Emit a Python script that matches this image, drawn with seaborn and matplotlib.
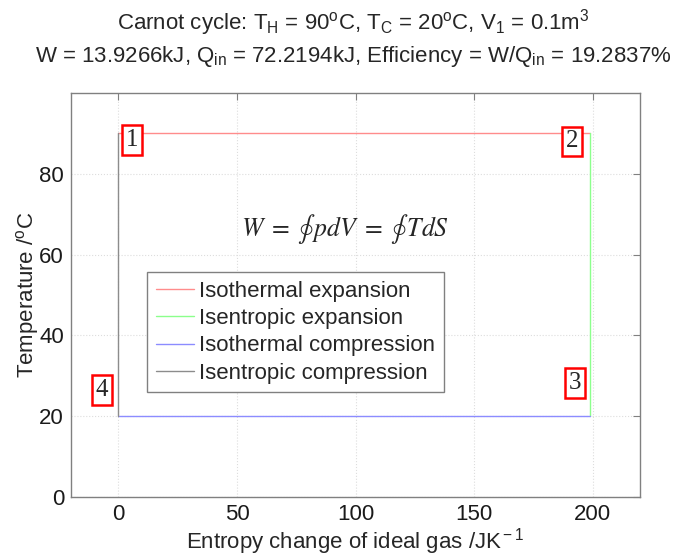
import matplotlib
matplotlib.use("Agg")
import matplotlib.pyplot as plt
import seaborn as sns
import pandas as pd

# Data
T_H = 90
T_C = 20
dS = 198.95
segments = ["Isothermal expansion", "Isentropic expansion",
            "Isothermal compression", "Isentropic compression"]
seg_S = [[0, dS], [dS, dS], [dS, 0], [0, 0]]
seg_T = [[T_H, T_H], [T_H, T_C], [T_C, T_C], [T_C, T_H]]
colors = ["#ff8c8c", "#8cff8c", "#8c8cff", "#8c8c8c"]
corner_labels = ["1", "2", "3", "4"]
corner_S = [5.9, 191.2, 192.4, -7.0]
corner_T = [88.4, 88.0, 28.2, 26.5]
xticks = [0, 50, 100, 150, 200]
yticks = [0, 20, 40, 60, 80]

sns.set_style("white")
plt.rcParams["font.family"] = ["Liberation Sans", "DejaVu Sans"]
plt.rcParams["mathtext.fontset"] = "custom"
plt.rcParams["mathtext.rm"] = "Liberation Sans"
plt.rcParams["mathtext.it"] = "Liberation Sans:italic"

FS = 16

rows = []
for name, ss, tt in zip(segments, seg_S, seg_T):
    for i, (s, t) in enumerate(zip(ss, tt)):
        rows.append({"S": s, "T": t, "seg": name, "order": i})
df = pd.DataFrame(rows)

fig = plt.figure(figsize=(6.99, 5.56), dpi=100)
ax = fig.add_axes([0.1016, 0.1061, 0.8140, 0.7266])

sns.lineplot(data=df, x="S", y="T", hue="seg", hue_order=segments,
             palette=colors, sort=False, estimator=None, ax=ax, lw=1.0)

ax.set_xlim(-20, 220)
ax.set_ylim(0, 100)
ax.set_xticks(xticks)
ax.set_yticks(yticks)
ax.grid(True, color="#dddddd", linestyle=":", linewidth=0.8)
for sp in ax.spines.values():
    sp.set_color("#808080")
    sp.set_linewidth(1.0)
ax.tick_params(direction="in", length=5, color="#808080", labelsize=FS,
               top=True, right=True, labelcolor="#1a1a1a", pad=5)

ax.set_xlabel(r"Entropy change of ideal gas /JK$^{\rm -1}$", fontsize=FS, labelpad=0.5)
ax.set_ylabel(r"Temperature /$^{\rm o}$C", fontsize=FS, labelpad=-1)

fig.text(0.505, 1 - 30 / 556,
         "Carnot cycle: T$_{\\rm H}$ = 90$^{\\rm o}$C, T$_{\\rm C}$ = 20$^{\\rm o}$C, V$_{\\rm 1}$ = 0.1m$^{\\rm 3}$",
         fontsize=FS, ha="center", va="baseline")
fig.text(0.505, 1 - 62 / 556,
         "W = 13.9266kJ, Q$_{\\rm in}$ = 72.2194kJ, Efficiency = W/Q$_{\\rm in}$ = 19.2837%",
         fontsize=FS, ha="center", va="baseline")

for lab, s, t in zip(corner_labels, corner_S, corner_T):
    ax.text(s, t, lab, fontsize=18, family="Liberation Serif", ha="center", va="center",
            bbox=dict(boxstyle="square,pad=0.15", fc="white", ec="red", lw=1.8))

ax.text(95.5, 66.4, r"$W\;=\;\oint\, pdV\;=\;\oint\, TdS$", fontsize=18.5,
        ha="center", va="center", math_fontfamily="stix")

leg = ax.legend(loc="upper left", bbox_to_anchor=(0.1336, 0.557), fontsize=FS,
                frameon=True, fancybox=False, framealpha=1, edgecolor="#808080",
                handlelength=1.7, borderpad=0.4, labelspacing=0.28, handletextpad=0.25,
                borderaxespad=0)
leg.get_frame().set_linewidth(1.0)

fig.savefig("out.png", dpi=100)
